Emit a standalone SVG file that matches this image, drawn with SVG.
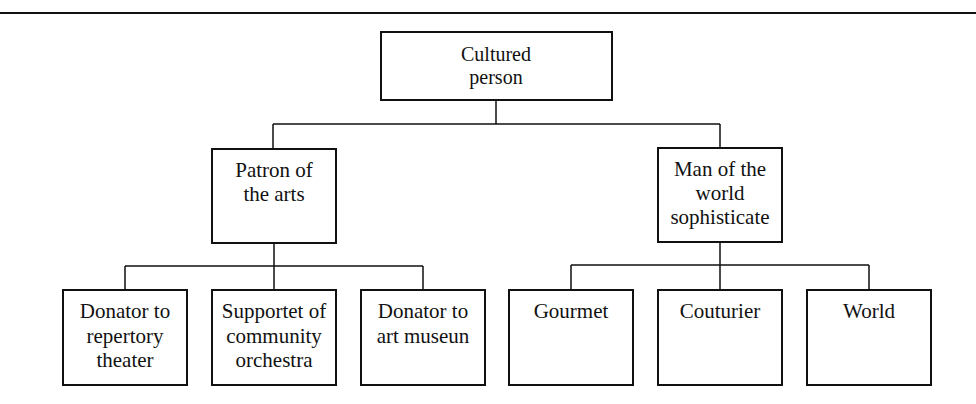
<svg xmlns="http://www.w3.org/2000/svg" width="976" height="404" viewBox="0 0 976 404">
<style>
.box{fill:#fff;stroke:#111;stroke-width:2}
.lbl{font-family:"Liberation Serif","Times New Roman",serif;font-size:21px;fill:#111;text-anchor:middle}
.conn{fill:none;stroke:#111;stroke-width:1.5}
</style>
<rect width="976" height="404" fill="#fff"/>
<line x1="0" y1="13" x2="976" y2="13" stroke="#111" stroke-width="2"/>
<g id="connectors" class="conn">
<path d="M496,100 V124 M273,124 H720 M273,124 V149 M720,124 V148"/>
<path d="M274,243 V266 M125,266 H423 M125,266 V290 M274,266 V290 M423,266 V290"/>
<path d="M720,242 V265 M571,265 H869 M571,265 V290 M720,265 V290 M869,265 V290"/>
</g>
<g id="cultured">
<rect class="box" x="381" y="32" width="231" height="68"/>
<text class="lbl" x="496" y="61" style="font-size:20px">Cultured</text>
<text class="lbl" x="496" y="84" style="font-size:20px">person</text>
</g>
<g id="patron">
<rect class="box" x="212" y="149" width="124" height="94"/>
<text class="lbl" x="274" y="177">Patron of</text>
<text class="lbl" x="274" y="201">the arts</text>
</g>
<g id="man">
<rect class="box" x="658" y="148" width="124" height="94"/>
<text class="lbl" x="720" y="176">Man of the</text>
<text class="lbl" x="720" y="200">world</text>
<text class="lbl" x="720" y="224">sophisticate</text>
</g>
<g id="donator-theater">
<rect class="box" x="63" y="290" width="124" height="95"/>
<text class="lbl" x="125" y="318">Donator to</text>
<text class="lbl" x="125" y="343">repertory</text>
<text class="lbl" x="125" y="367">theater</text>
</g>
<g id="supporter">
<rect class="box" x="212" y="290" width="124" height="95"/>
<text class="lbl" x="274" y="318">Supportet of</text>
<text class="lbl" x="274" y="343">community</text>
<text class="lbl" x="274" y="367">orchestra</text>
</g>
<g id="donator-museum">
<rect class="box" x="361" y="290" width="124" height="95"/>
<text class="lbl" x="423" y="318">Donator to</text>
<text class="lbl" x="423" y="343">art museun</text>
</g>
<g id="gourmet">
<rect class="box" x="509" y="290" width="124" height="95"/>
<text class="lbl" x="571" y="318">Gourmet</text>
</g>
<g id="couturier">
<rect class="box" x="658" y="290" width="124" height="95"/>
<text class="lbl" x="720" y="318">Couturier</text>
</g>
<g id="world">
<rect class="box" x="807" y="290" width="124" height="95"/>
<text class="lbl" x="869" y="318">World</text>
</g>
</svg>
